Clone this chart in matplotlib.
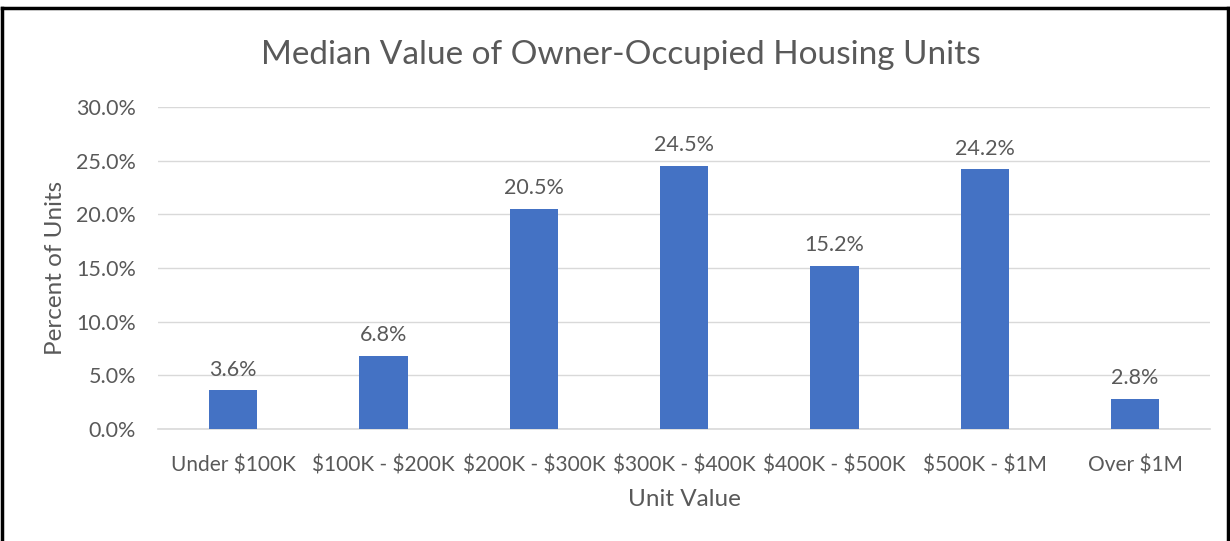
import matplotlib.pyplot as plt
from matplotlib.lines import Line2D

# data
categories = ["Under $100K", "$100K - $200K", "$200K - $300K", "$300K - $400K",
              "$400K - $500K", "$500K - $1M", "Over $1M"]
percents = [3.6, 6.8, 20.5, 24.5, 15.2, 24.2, 2.8]
yticks = [0, 5, 10, 15, 20, 25, 30]

plt.rcParams['font.family'] = ['Lato', 'DejaVu Sans']
plt.rcParams['text.parse_math'] = False
gray = '#595959'

fig = plt.figure(figsize=(12.3, 5.41), dpi=100)
ax = fig.add_axes([0.1285, 0.207, 0.8555, 0.595])

x = range(len(categories))
bars = ax.bar(x, percents, width=0.32, color='#4472C4', zorder=3)

# value labels
for b, v in zip(bars, percents):
    ax.text(b.get_x() + b.get_width() / 2, v + 1.0, "%.1f%%" % v,
            ha='center', va='bottom', fontsize=15.5, color=gray)

ax.set_xlim(-0.5, len(categories) - 0.5)
ax.set_ylim(0, 30)
ax.set_yticks(yticks)
ax.set_yticklabels(["%.1f%%" % t for t in yticks])
ax.set_xticks(list(x))
ax.set_xticklabels(categories)
ax.tick_params(axis='both', length=0, labelsize=15.5, labelcolor=gray)
ax.tick_params(axis='x', pad=19, labelsize=15)
ax.tick_params(axis='y', pad=16)

ax.grid(axis='y', color='#d9d9d9', linewidth=1, zorder=0)
for s in ['top', 'right', 'left']:
    ax.spines[s].set_visible(False)
ax.spines['bottom'].set_color('#d9d9d9')
ax.spines['bottom'].set_linewidth(1.2)

ax.set_xlabel('Unit Value', fontsize=17.5, color=gray, labelpad=10)
ax.set_ylabel('Percent of Units', fontsize=17.5, color=gray, labelpad=7)
fig.text(0.505, 0.898, 'Median Value of Owner-Occupied Housing Units',
         ha='center', va='center', fontsize=24, color=gray)

# frame around the chart (left, top, right)
fig.add_artist(Line2D([0.002, 0.002], [0, 0.985], color='black', lw=2.5, transform=fig.transFigure))
fig.add_artist(Line2D([0.002, 0.998], [0.985, 0.985], color='black', lw=2.5, transform=fig.transFigure))
fig.add_artist(Line2D([0.998, 0.998], [0, 0.985], color='black', lw=2.5, transform=fig.transFigure))

fig.savefig('out.png', dpi=100)
